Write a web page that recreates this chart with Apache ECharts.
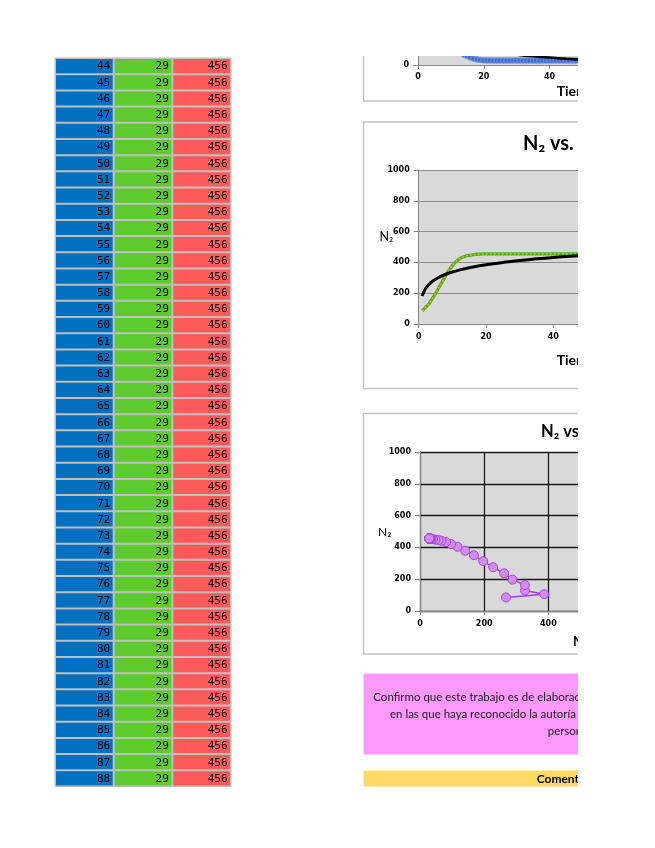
<!DOCTYPE html>
<html><head><meta charset="utf-8">
<script src="https://cdn.jsdelivr.net/npm/echarts/dist/echarts.min.js"></script>
<style>
html,body{margin:0;padding:0;background:#fff;width:655px;height:848px;overflow:hidden}
#clip{position:absolute;left:0;top:56px;width:578px;height:792px;overflow:hidden}
#chart{position:absolute;left:0;top:-256px;width:900px;height:1100px}
</style></head><body>
<div id="clip"><div id="chart"></div></div>
<script>
// ---- data ----
const tiempo = [1,2,3,4,5,6,7,8,9,10,11,12,13,14,15,16,17,18,19,20,
  21,22,23,24,25,26,27,28,29,30,31,32,33,34,35,36,37,38,39,40,
  41,42,43,44,45,46,47,48,49,50,51,52,53,54,55,56,57,58,59,60,
  61,62,63,64,65,66,67,68,69,70,71,72,73,74,75,76,77,78,79,80,
  81,82,83,84,85,86,87,88];
const n1 = [268,387,327,327,288,262,228,197,168,141,
  117,97,81,67,58,48,41,36,33,31,
  30,30,29,29,29,29,29,29,29,29,
  29,29,29,29,29,29,29,29,29,29,
  29,29,29,29,29,29,29,29,29,29,
  29,29,29,29,29,29,29,29,29,29,
  29,29,29,29,29,29,29,29,29,29,
  29,29,29,29,29,29,29,29,29,29,
  29,29,29,29,29,29,29,29];
const n2 = [85,106,129,163,197,237,275,313,351,379,
  404,421,434,442,446,449,452,454,455,455,
  456,456,456,456,456,456,456,456,456,456,
  456,456,456,456,456,456,456,456,456,456,
  456,456,456,456,456,456,456,456,456,456,
  456,456,456,456,456,456,456,456,456,456,
  456,456,456,456,456,456,456,456,456,456,
  456,456,456,456,456,456,456,456,456,456,
  456,456,456,456,456,456,456,456];
const trendT  = [1,2,3,4,5,6,8,10,12,15,20,25,30,35,40,45,50,60,70,80,88];
const trendN1 = [280,236,211,193,179,167,149,135,123,109,91,77,66,56,48,40,34,22,12,4,-2];
const trendN2 = [182,229,256,276,291,303,323,338,350,365,385,400,412,423,432,440,447,459,470,479,485];
const ticksTiempo = [0,20,40,60,80,100];
const ticksN = [0,200,400,600,800,1000];
const ticksN1 = [0,200,400,600,800,1000];
const primeraFila = 44;
const titulo2 = 'N\u2082 vs. Tiempo';
const titulo3 = 'N\u2082 vs. N\u2081';
const textoConfirmo = ['Confirmo que este trabajo es de elaboración propia, excepto en aquellas partes',
  'en las que haya reconocido la autoría de ideas, textos o datos de otras',
  'personas.'];
const textoComentarios = 'Comentarios';

// ---- layout ----
const OY = 200;
const P = y => y + OY;
const chart = echarts.init(document.getElementById('chart'));

const idx0 = tiempo.indexOf(primeraFila);
const filas = tiempo.slice(idx0);
const colN1 = n1.slice(idx0), colN2 = n2.slice(idx0);
const colores = ['#0070C0', '#5DCA2E', '#FF5A5A'];
const celdas = [];
filas.forEach((t, i) => { celdas.push([0, i, t]); celdas.push([1, i, colN1[i]]); celdas.push([2, i, colN2[i]]); });

const lblFont = {fontSize: 8, fontWeight: 'bold', fontFamily: 'DejaVu Sans', color: '#000', formatter: v => String(v)};
const axisLineGrey = {show: true, lineStyle: {color: '#868686', width: 1}};
function xAx(grid, max, interval, margin) {
  return {type: 'value', gridIndex: grid, min: 0, max: max, interval: interval,
    axisLine: axisLineGrey, axisTick: {show: true, length: 4, lineStyle: {color: '#868686'}},
    axisLabel: Object.assign({margin: margin}, lblFont), splitLine: {show: false}};
}
function yAx(grid, splitColor, splitWidth) {
  return {type: 'value', gridIndex: grid, min: ticksN[0], max: ticksN[ticksN.length - 1], interval: ticksN[1] - ticksN[0],
    axisLine: axisLineGrey, axisTick: {show: true, length: 5, lineStyle: {color: '#868686'}},
    axisLabel: Object.assign({margin: 9}, lblFont),
    splitLine: {show: true, lineStyle: {color: splitColor, width: splitWidth}}};
}
function txt(x, y, text, font, fill) {
  return {type: 'text', x: x, y: y, z: 10,
    style: {text: text, font: font, fill: fill || '#000', align: 'left', verticalAlign: 'middle', textAlign: 'left', textVerticalAlign: 'middle'}};
}
function box(x, y, w, h, fill, stroke) {
  return {type: 'rect', z: -5, shape: {x: x, y: P(y), width: w, height: h},
    style: {fill: fill, stroke: stroke, lineWidth: stroke ? 1.5 : 0}};
}

const option = {
  animation: false,
  grid: [
    {left: 55, top: P(58), width: 176, height: 728.5, show: true, backgroundColor: '#C0C0C0', borderColor: '#BDBDBD', borderWidth: 1},
    {left: 418, top: P(65 - 154), width: 329, height: 154, show: true, backgroundColor: '#D9D9D9', borderWidth: 0},
    {left: 418.7, top: P(170), width: 336.5, height: 154, show: true, backgroundColor: '#D9D9D9', borderWidth: 0},
    {left: 420, top: P(452), width: 321, height: 159, show: true, backgroundColor: '#D9D9D9', borderWidth: 0}
  ],
  xAxis: [
    {type: 'category', gridIndex: 0, data: ['t', 'N1', 'N2'], show: false},
    xAx(1, ticksTiempo[ticksTiempo.length - 1], ticksTiempo[1], 8),
    xAx(2, ticksTiempo[ticksTiempo.length - 1], ticksTiempo[1], 9),
    Object.assign(xAx(3, ticksN1[ticksN1.length - 1], ticksN1[1], 9), {splitLine: {show: true, lineStyle: {color: '#1A1A1A', width: 1.3}}})
  ],
  yAxis: [
    {type: 'category', gridIndex: 0, data: filas, inverse: true, show: false},
    yAx(1, '#8C8C8C', 1),
    yAx(2, '#8C8C8C', 1),
    yAx(3, '#1A1A1A', 1.3)
  ],
  graphic: [
    box(363.5, -150, 444, 251, 'rgba(0,0,0,0)', '#C3C3C3'),
    box(363.5, 122, 444, 266.5, 'rgba(0,0,0,0)', '#C3C3C3'),
    box(363.5, 413.5, 444, 240.5, 'rgba(0,0,0,0)', '#C3C3C3'),
    box(363.5, 673.5, 444, 81, '#FF99FF', null),
    box(363.5, 770.5, 444, 16, '#FFD966', null),
    txt(523, P(143.5), titulo2, 'bold 20px Lato'),
    txt(541, P(432), titulo3, 'bold 16.5px Lato'),
    txt(556.7, P(91.5), 'Tiempo', 'bold 14px Lato'),
    txt(556.7, P(360), 'Tiempo', 'bold 14px Lato'),
    txt(573, P(642), 'N\u2081', 'bold 13px Lato'),
    txt(379.5, P(237), 'N\u2082', '12.5px Lato'),
    txt(378, P(532), 'N\u2082', '12px Lato'),
    txt(373.3, P(697.5), textoConfirmo[0], '11.5px Lato', '#1A1A1A'),
    txt(390, P(714.5), textoConfirmo[1], '11.5px Lato', '#1A1A1A'),
    txt(547.7, P(731.5), textoConfirmo[2], '11.5px Lato', '#1A1A1A'),
    txt(536.7, P(779), textoComentarios, 'bold 12px Lato')
  ],
  series: [
    {type: 'custom', xAxisIndex: 0, yAxisIndex: 0, data: celdas,
      renderItem: function (params, api) {
        const cx = api.value(0), cy = api.value(1), v = api.value(2);
        const c = api.coord([cx, cy]);
        const s = api.size([1, 1]);
        const x0 = c[0] - s[0] / 2 + 1, y0 = c[1] - s[1] / 2 + 1, w = s[0] - 2, h = s[1] - 2;
        return {type: 'group', children: [
          {type: 'rect', shape: {x: x0, y: y0, width: w, height: h}, style: {fill: colores[cx]}},
          {type: 'text', style: {text: String(v), x: x0 + w - 2.5, y: y0 + h / 2 + 0.5, align: 'right', verticalAlign: 'middle',
            font: '11px "DejaVu Sans Mono"', fill: '#000'}}
        ]};
      }},
    {type: 'scatter', xAxisIndex: 1, yAxisIndex: 1, data: tiempo.map((t, i) => [t, n1[i]]),
      symbol: 'circle', symbolSize: 6, itemStyle: {color: '#3467D0', borderColor: '#7EA1E4', borderWidth: 0.8}},
    {type: 'line', xAxisIndex: 1, yAxisIndex: 1, data: trendT.map((t, i) => [t, trendN1[i]]),
      smooth: 0.3, showSymbol: false, clip: true, lineStyle: {color: '#000', width: 2.5}},
    {type: 'line', xAxisIndex: 2, yAxisIndex: 2, data: tiempo.map((t, i) => [t, n2[i]]),
      showSymbol: false, lineStyle: {color: '#5FA82B', width: 3.2}},
    {type: 'line', xAxisIndex: 2, yAxisIndex: 2, data: tiempo.map((t, i) => [t, n2[i]]),
      showSymbol: false, lineStyle: {color: '#D6D200', width: 1.5, type: [1.5, 2.5]}},
    {type: 'line', xAxisIndex: 2, yAxisIndex: 2, data: trendT.map((t, i) => [t, trendN2[i]]),
      smooth: 0.3, showSymbol: false, lineStyle: {color: '#000', width: 3}},
    {type: 'line', xAxisIndex: 3, yAxisIndex: 3, data: n1.map((v, i) => [v, n2[i]]),
      symbol: 'circle', symbolSize: 9, showAllSymbol: true,
      itemStyle: {color: '#D28BF2', borderColor: '#A647D6', borderWidth: 1},
      lineStyle: {color: '#A53BCF', width: 1.5}}
  ]
};
chart.setOption(option);
</script>
</body></html>
